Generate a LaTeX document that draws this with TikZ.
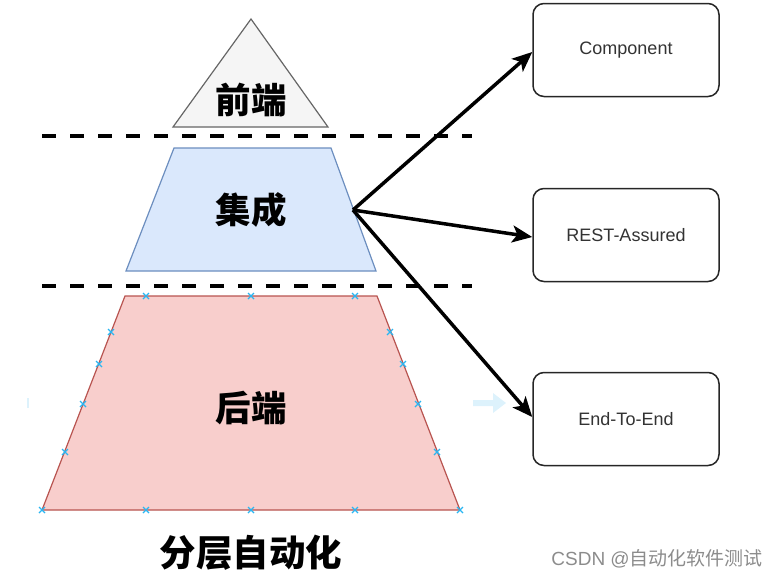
\documentclass[tikz,border=0pt]{standalone}
\usepackage{fontspec}
\setmainfont{Liberation Sans}
\newfontfamily\cjk{Noto Sans CJK SC}
\usetikzlibrary{arrows.meta,calc}
\definecolor{grayfill}{HTML}{F5F5F5}
\definecolor{graystroke}{HTML}{666666}
\definecolor{bluefill}{HTML}{DAE8FC}
\definecolor{bluestroke}{HTML}{6C8EBF}
\definecolor{redfill}{HTML}{F8CECC}
\definecolor{redstroke}{HTML}{B85450}
\definecolor{hint}{HTML}{29B6F2}
\definecolor{hintfill}{HTML}{DDF2FC}
\definecolor{boxtext}{HTML}{333333}
\definecolor{wm}{HTML}{8C8C8C}
\tikzset{
  layerlabel/.style={font=\cjk\bfseries\fontsize{35.5}{37}\selectfont, inner sep=0pt},
  sep/.style={line width=4.5pt, dash pattern=on 14pt off 14pt},
  tbox/.style={draw=black!85, line width=1.5pt, rounded corners=11pt, fill=white,
     minimum width=186pt, minimum height=93pt, inner sep=0pt,
     font=\fontsize{18}{20}\selectfont, text=boxtext},
  link/.style={line width=3.5pt, -{Stealth[length=20pt, width=17pt, inset=5pt]}},
  mk/.style={hint, line width=1.3pt},
}
\begin{document}
\begin{tikzpicture}[x=1pt,y=-1pt]
\useasboundingbox (0,0) rectangle (780,579);
% front triangle
\draw[fill=grayfill, draw=graystroke, line width=1.2pt] (173,127) -- (251,19) -- (328,127) -- cycle;
\node[layerlabel] (front) at (251,100) {前端};
% separator 1
\draw[sep] (42,136) -- (472,136);
% integration trapezoid
\draw[fill=bluefill, draw=bluestroke, line width=1.2pt] (174,148) -- (331,148) -- (376,271) -- (126,271) -- cycle;
\coordinate (src) at (353,210);
\node[layerlabel] (integ) at (251,210) {集成};
% separator 2
\draw[sep] (42,286) -- (472,286);
% backend trapezoid
\draw[fill=redfill, draw=redstroke, line width=1.2pt] (125,296) -- (377,296) -- (460,510) -- (42,510) -- cycle;
\node[layerlabel] (back) at (251,408) {后端};
% connection hints
\foreach \hx/\hy in {146/296,251/296,355/296,42/510,146/510,251/510,355/510,460/510,
  111/332,99/364,83/404,65/452,390/332,403/364,418/404,437/452}{
  \draw[mk, shift={(\hx,\hy)}] (-3,-3) -- (3,3) (-3,3) -- (3,-3);
}
% faint hint arrow
\fill[hintfill] (473,400) -- (493,400) -- (493,393) -- (506,403) -- (493,413) -- (493,406) -- (473,406) -- cycle;
\fill[hintfill] (27,398) rectangle (29,408);
% title
\node[font=\cjk\bfseries\fontsize{36.5}{38}\selectfont, inner sep=0pt] (title) at (251,553) {分层自动化};
% boxes
\node[tbox] (comp) at (626,50) {Component};
\node[tbox] (rest) at (626,235) {REST-Assured};
\node[tbox] (e2e) at (626,419) {End-To-End};
\draw[link] (src) -- ($(comp.west)+(0,2)$);
\draw[link] (src) -- ($(rest.west)+(0,2)$);
\draw[link] (src) -- ($(e2e.west)+(0,-2)$);
% watermark
\node[anchor=east, inner sep=0pt, text=wm, font=\fontsize{19}{21}\selectfont] (wm) at (763,559) {CSDN @{\cjk 自动化软件测试}};
\end{tikzpicture}
\end{document}
